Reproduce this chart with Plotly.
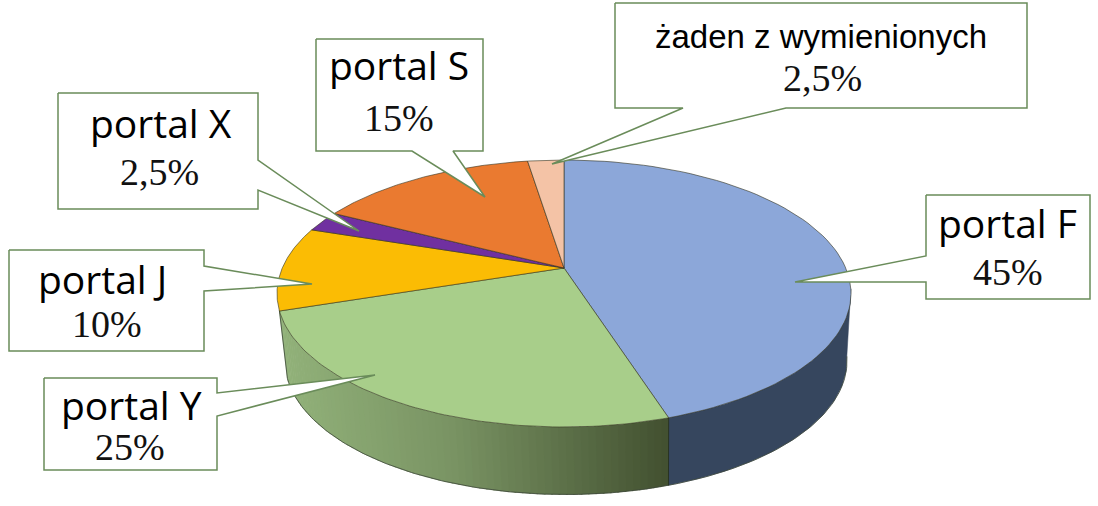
import numpy as np
import plotly.graph_objects as go

# data
categories = ["portal F", "portal Y", "portal J", "portal X", "portal S", "żaden z wymienionych"]
shares = [45, 25, 10, 2.5, 15, 2.5]

# styles / layout
top_colors = ["#8CA7D9", "#A8CE8A", "#FBBC04", "#7030A0", "#EA7A30", "#F4C3A6"]
box_edge = "#6A8C5A"
boxes = [(926, 1090, 195, 299), (44, 217, 378, 470), (9, 204, 250, 351),
         (58, 258, 93, 209), (316, 483, 39, 151), (615, 1027, 3, 108)]
tips = [("l", 256, 282, 795, 282), ("r", 393, 416, 375, 375), ("r", 266, 291, 312, 284),
        ("r", 160, 190, 359, 231), ("b", 412, 453, 485, 197), ("b", 683, 786, 552, 164)]
name_pos = [(1007, 222), (131, 404), (102, 278), (161, 122), (399, 64), (821, 36)]
pct_pos = [(1008, 272), (130, 447), (107, 324), (159, 172), (399, 118), (822, 78)]

CX, CY, RX, RY = 564.0, 293.5, 287.0, 133.5
BX, BY, BRX, BRY = 566.0, 361.0, 281.0, 133.5
APEX_Y = 268.0
a0 = (APEX_Y - CY) / RY


def boundary_phi(theta_deg):
    th = np.radians(theta_deg)
    dx, dy = np.sin(th), -np.cos(th)
    b = a0 * dy
    s = -b + np.sqrt(b * b - (a0 * a0 - 1))
    ux, uy = s * dx, a0 + s * dy
    return np.degrees(np.arctan2(ux, -uy)) % 360


def top_pt(phi):
    p = np.radians(phi)
    return CX + RX * np.sin(p), CY - RY * np.cos(p)


def bot_pt(phi):
    p = np.radians(phi)
    return BX + BRX * np.sin(p), BY - BRY * np.cos(p)


fig = go.Figure()
cum = np.concatenate([[0], np.cumsum(shares)]) / sum(shares) * 360
phis = [boundary_phi(c) for c in cum[:-1]] + [360.0]


def poly(x, y, fill, line="rgba(0,0,0,0)", width=0):
    fig.add_trace(go.Scatter(x=list(x), y=list(y), mode="lines", fill="toself", fillcolor=fill,
                             line=dict(color=line, width=width), hoverinfo="skip", showlegend=False))


def wall(p0, p1, col):
    ps = np.linspace(p0, p1, 12)
    tx, ty = top_pt(ps)
    bx, by = bot_pt(ps)
    poly(np.r_[tx, bx[::-1], tx[0]], np.r_[ty, by[::-1], ty[0]], col, col, 0.5)


# side wall of portal F
wall(88, phis[1], "#36465E")
# side wall of portal Y, shaded by horizontal position
stops_x = [280, 450, 670]
stops_c = np.array([[146, 178, 122], [122, 148, 100], [66, 80, 48]])
edges = np.linspace(phis[1], phis[2], 70)
for p0, p1 in zip(edges[:-1], edges[1:]):
    xm = top_pt((p0 + p1) / 2)[0]
    c = [int(np.interp(xm, stops_x, stops_c[:, i])) for i in range(3)]
    wall(p0, p1 + 0.3, f"rgb({c[0]},{c[1]},{c[2]})")

# wall outlines
ps = np.linspace(88, phis[2], 200)
bx, by = bot_pt(ps)
lx, ly = top_pt(phis[2])
fig.add_trace(go.Scatter(x=np.r_[bx, lx], y=np.r_[by, ly], mode="lines",
                         line=dict(color="#3c4638", width=0.8),
                         hoverinfo="skip", showlegend=False))
tx, ty = top_pt(phis[1])
qx, qy = bot_pt(phis[1])
fig.add_trace(go.Scatter(x=[tx, qx], y=[ty, qy], mode="lines", line=dict(color="#1f2a1a", width=0.8),
                         hoverinfo="skip", showlegend=False))

# top face
for i, col in enumerate(top_colors):
    ps = np.linspace(phis[i], phis[i + 1], 80)
    ax, ay = top_pt(ps)
    poly(np.r_[CX, ax, CX], np.r_[APEX_Y, ay, APEX_Y], col, "rgba(50,50,30,0.75)", 0.8)

# callouts
for (x0, x1, y0, y1), t in zip(boxes, tips):
    kind, a, b, tx_, ty_ = t
    if kind == "r":
        xs = [x0, x1, x1, tx_, x1, x1, x0, x0]
        ys = [y0, y0, a, ty_, b, y1, y1, y0]
    elif kind == "l":
        xs = [x0, x1, x1, x0, x0, tx_, x0, x0]
        ys = [y0, y0, y1, y1, b, ty_, a, y0]
    else:
        xs = [x0, x1, x1, b, tx_, a, x0, x0]
        ys = [y0, y0, y1, y1, ty_, y1, y1, y0]
    poly(xs, ys, "white", box_edge, 1.5)


def pct(v):
    return f"{v:g}".replace(".", ",") + "%"


ann = []
for i, name in enumerate(categories):
    fam, size = ("Liberation Sans", 33) if i == 5 else ("Open Sans", 39)
    ann.append(dict(x=name_pos[i][0], y=name_pos[i][1], text=name, showarrow=False,
                    font=dict(family=fam, size=size, color="black"), xanchor="center", yanchor="middle"))
    ann.append(dict(x=pct_pos[i][0], y=pct_pos[i][1], text=pct(shares[i]), showarrow=False,
                    font=dict(family="Liberation Serif", size=38, color="#111"), xanchor="center", yanchor="middle"))

fig.update_layout(width=1098, height=506, margin=dict(l=0, r=0, t=0, b=0),
                  paper_bgcolor="white", plot_bgcolor="white", showlegend=False, annotations=ann,
                  xaxis=dict(range=[0, 1098], visible=False),
                  yaxis=dict(range=[506, 0], visible=False))
fig.write_html("out.html", config={"displayModeBar": False},
               post_script="document.body.style.margin='0';")
